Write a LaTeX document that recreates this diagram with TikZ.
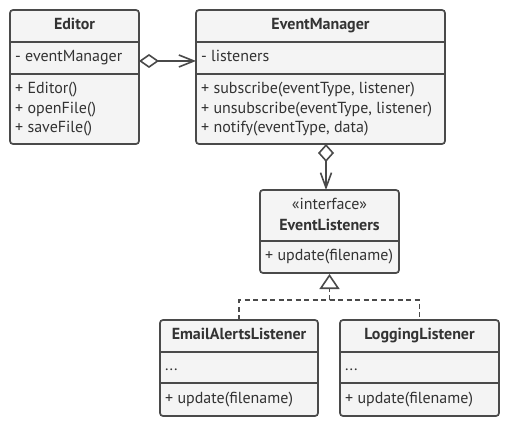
\documentclass[tikz,border=0pt]{standalone}
\usepackage{fontspec}
\setmainfont{PT Sans}
\usetikzlibrary{arrows.meta}
\definecolor{lc}{HTML}{4A4A4A}
\definecolor{bg}{HTML}{F4F4F4}
\definecolor{tc}{HTML}{333333}
\newcommand{\fs}{\fontsize{16}{19}\selectfont}
\tikzset{
  x=1pt, y=-1pt,
  cls/.style={draw=lc, fill=bg, line width=1.7pt, rounded corners=3pt, inner sep=0, outer sep=0},
  divl/.style={draw=lc, line width=1.7pt},
  txt/.style={anchor=west, inner sep=0, text=tc, font=\fs, text height=0.7em, text depth=0em},
  ttl/.style={inner sep=0, text=tc, font=\fs\bfseries, text height=0.7em, text depth=0em},
  conn/.style={draw=lc, line width=1.6pt},
  dsh/.style={draw=lc, line width=1.6pt, dash pattern=on 5pt off 3.5pt}
}
\begin{document}
\begin{tikzpicture}
\useasboundingbox (0,0) rectangle (510,430);
% boxes
\node[cls, minimum width=129pt, minimum height=134pt] (ed) at (74.5,77) {};
\node[cls, minimum width=249pt, minimum height=134pt] (em) at (320.5,77) {};
\node[cls, minimum width=139pt, minimum height=83pt] (el) at (329.5,231.5) {};
\node[cls, minimum width=158pt, minimum height=96pt] (ea) at (239,368) {};
\node[cls, minimum width=159pt, minimum height=96pt] (lg) at (419.5,368) {};
% dividers
\draw[divl] (ed.west |- 0,42) -- (ed.east |- 0,42);
\draw[divl] (ed.west |- 0,74) -- (ed.east |- 0,74);
\draw[divl] (em.west |- 0,42) -- (em.east |- 0,42);
\draw[divl] (em.west |- 0,74) -- (em.east |- 0,74);
\draw[divl] (el.west |- 0,241) -- (el.east |- 0,241);
\draw[divl] (ea.west |- 0,352) -- (ea.east |- 0,352);
\draw[divl] (ea.west |- 0,383) -- (ea.east |- 0,383);
\draw[divl] (lg.west |- 0,352) -- (lg.east |- 0,352);
\draw[divl] (lg.west |- 0,383) -- (lg.east |- 0,383);
% Editor texts
\node[ttl] (edt) at (74.5,26) {Editor};
\node[txt] (eda) at (15,58) {- eventManager};
\node[txt] (edm1) at (15,90) {+ Editor()};
\node[txt] (edm2) at (15,110) {+ openFile()};
\node[txt] (edm3) at (15,129) {+ saveFile()};
% EventManager texts
\node[ttl] (emt) at (320.5,26) {EventManager};
\node[txt] (ema) at (201,58) {- listeners};
\node[txt] (emm1) at (201,90) {+ subscribe(eventType, listener)};
\node[txt] (emm2) at (201,110) {+ unsubscribe(eventType, listener)};
\node[txt] (emm3) at (201,129) {+ notify(eventType, data)};
% EventListeners texts
\node[inner sep=0, text=tc, font=\fs, text height=0.7em, text depth=0em] (els) at (329.5,206) {«interface»};
\node[ttl] (elt) at (329.5,227) {EventListeners};
\node[txt] (elm) at (265,257) {+ update(filename)};
% EmailAlertsListener texts
\node[ttl] (eat) at (239,336) {EmailAlertsListener};
\node[txt] (eaa) at (165,367) {...};
\node[txt] (eam) at (165,400) {+ update(filename)};
% LoggingListener texts
\node[ttl] (lgt) at (419.5,336) {LoggingListener};
\node[txt] (lga) at (345,367) {...};
\node[txt] (lgm) at (345,400) {+ update(filename)};
% connectors
\draw[conn, {Diamond[open, length=20pt, width=14pt]}-{Straight Barb[length=15pt, width=12pt]}]
  ([yshift=16pt]ed.east) -- ([yshift=16pt]em.west);
\draw[conn, {Diamond[open, length=18pt, width=16pt]}-{Straight Barb[length=15pt, width=11pt]}]
  ([xshift=5.5pt]em.south) -- ([xshift=-3.5pt]el.north);
\coordinate (j) at (329.5,300);
\draw[dsh] (ea.north) |- (j) -| (lg.north);
\draw[dsh, -{Triangle[open, length=15pt, width=20pt, fill=white]}] (j) -- ([yshift=-1pt]el.south);
\end{tikzpicture}
\end{document}
